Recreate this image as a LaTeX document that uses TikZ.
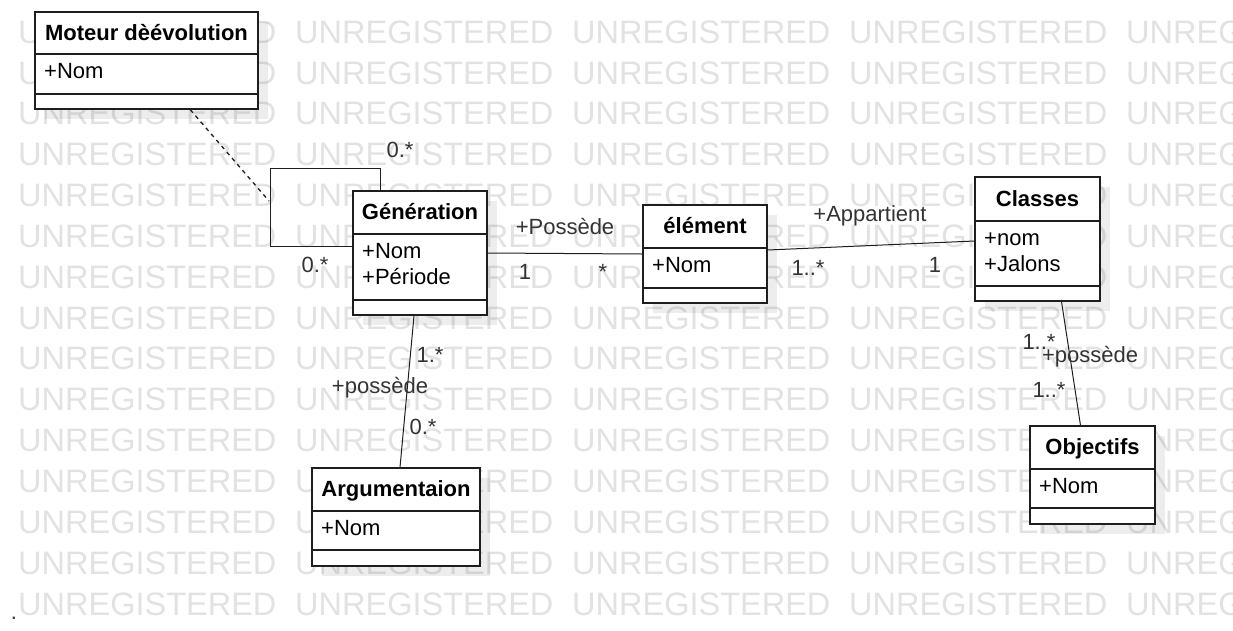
\documentclass[tikz,border=0pt]{standalone}
\usepackage{fontspec}
\setmainfont{Liberation Sans}
\usepackage{xcolor}
\usetikzlibrary{calc,fit}
\definecolor{TraitUML}{RGB}{30,30,30}
\definecolor{GrisFiligrane}{RGB}{226,226,226}

% boite de classe : nom, gauche, haut, droite, bas, ligne titre, ligne attributs, titre, attributs
\newcommand{\classeUML}[9]{%
  \fill[ombre] (#2+10,#3+10) rectangle (#4+10,#5+10);
  \node[classe, fit={(#2,#3) (#4,#5)}] (#1) {};
  \draw[separation] (#2,#6) -- (#4,#6) (#2,#7) -- (#4,#7);
  \node[titre] (#1-titre) at ({(#2+#4)/2},{(#3+#6)/2+7}) {#8};
  \node[attributs] (#1-attr) at (#2+9,#6+6) {\strut#9};
}

\begin{document}
\begin{tikzpicture}[x=1pt,y=-1pt,
  classe/.style={draw=TraitUML, line width=1.3pt, fill=white, inner sep=0pt},
  separation/.style={TraitUML, line width=1.3pt},
  ombre/.style={fill=black, opacity=0.07},
  titre/.style={anchor=base, inner sep=0pt, font=\bfseries\fontsize{22}{26}\selectfont},
  attributs/.style={anchor=north west, inner sep=0pt, align=left, font=\fontsize{22}{26}\selectfont},
  etiquette/.style={inner sep=0pt, text=black!80, font=\fontsize{22}{26}\selectfont},
  lien/.style={TraitUML, line width=1pt},
  filigrane/.style={anchor=west, inner sep=0pt, text=GrisFiligrane, font=\fontsize{32.5}{32.5}\selectfont}]
  \useasboundingbox (0,0) rectangle (1233,630);

  % filigrane
  \begin{scope}
    \clip (0,0) rectangle (1233,630);
    \foreach \i in {0,...,14}
      \foreach \j in {0,...,4}
        \node[filigrane] (fil-\i-\j) at (18+277*\j,32+40.85*\i) {UNREGISTERED};
  \end{scope}

  % classes
  \classeUML{moteur}{35}{12}{258}{109}{54}{94}{Moteur dèévolution}{+Nom}
  \classeUML{generation}{353}{191}{487}{315}{234}{300}{Génération}{+Nom\\+Période}
  \classeUML{element}{643}{205}{767}{303}{248}{288}{élément}{+Nom}
  \classeUML{classes}{975}{177}{1100}{301}{221}{286}{Classes}{+nom\\+Jalons}
  \classeUML{objectifs}{1030}{426}{1155}{524}{469}{508}{Objectifs}{+Nom}
  \classeUML{argument}{312}{468}{480}{566}{511}{550}{Argumentaion}{+Nom}

  % association reflexive sur Generation
  \coordinate (boucle-haut) at (270,168);
  \coordinate (boucle) at (269,201);
  \draw[lien] ($(generation.north west)+(28,0)$) |- (boucle-haut) |- ($(generation.north west)+(0,56)$);
  \draw[lien, line width=1.3pt, dash pattern=on 4pt off 4pt] ($(moteur.south west)!0.695!(moteur.south east)$) -- (boucle);
  \node[etiquette] (mult-boucle-a) at (400,150) {0.*};
  \node[etiquette] (mult-boucle-b) at (315,265) {0.*};

  % Generation -- element
  \draw[lien] (generation.east) -- (element.west);
  \node[etiquette] (role-possede) at (565,227) {+Possède};
  \node[etiquette] (mult-gen) at (525,272) {1};
  \node[etiquette] (mult-elem) at (603,272) {*};

  % element -- Classes
  \draw[lien] ($(element.east)+(0,-4)$) -- ($(classes.west)+(0,2)$);
  \node[etiquette] (role-appartient) at (870,216) {+Appartient};
  \node[etiquette] (mult-elem-b) at (808,268) {1..*};
  \node[etiquette] (mult-classes) at (935,265) {1};

  % Generation -- Argumentaion
  \draw[lien] ($(generation.south)+(-6,0)$) -- ($(argument.north)+(4,0)$);
  \node[etiquette] (mult-gen-b) at (430,355) {1.*};
  \node[etiquette] (role-possede-b) at (380,388) {+possède};
  \node[etiquette] (mult-arg) at (423,427) {0.*};

  % Classes -- Objectifs
  \draw[lien] ($(classes.south)+(24,0)$) -- ($(objectifs.north)+(-12,0)$);
  \node[etiquette] (mult-classes-b) at (1039,342) {1..*};
  \node[etiquette] (role-possede-c) at (1090,357) {+possède};
  \node[etiquette] (mult-obj) at (1049,390) {1..*};

  \node[etiquette] (point) at (14,618) {.};
\end{tikzpicture}
\end{document}
